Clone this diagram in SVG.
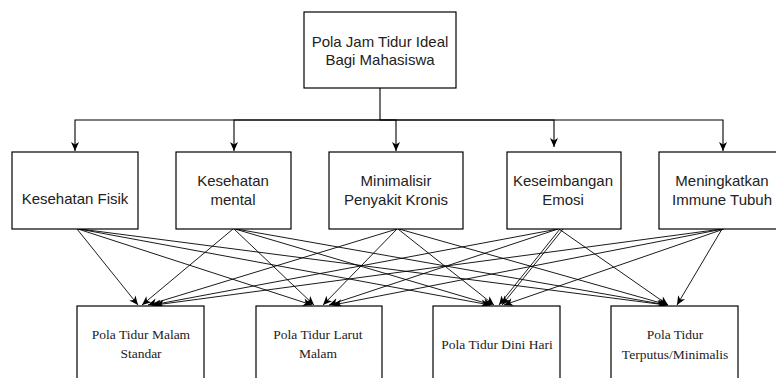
<svg xmlns="http://www.w3.org/2000/svg" width="776" height="378" viewBox="0 0 776 378">
<style>
.box{fill:#fff;stroke:#000;stroke-width:1.2}
.s{font-family:"Liberation Sans",Arial,sans-serif;font-size:15px;fill:#222;text-anchor:middle}
.t{font-family:"Liberation Serif","Times New Roman",serif;font-size:13.5px;fill:#222;text-anchor:middle}
.e{fill:none;stroke:#000;stroke-width:1.1}
.x{fill:none;stroke:#000;stroke-width:0.9}
</style>
<defs>
<marker id="a" markerWidth="11" markerHeight="9" refX="10" refY="4.5" orient="auto" markerUnits="userSpaceOnUse">
<path d="M1,0.5 L10,4.5 L1,8.5 L3.5,4.5 z" fill="#000"/>
</marker>
</defs>
<rect width="776" height="378" fill="#fff"/>
<g id="connectors">
<path class="e" d="M380,88 V120 H75 V151" marker-end="url(#a)"/>
<path class="e" d="M380,120 H234 V151" marker-end="url(#a)"/>
<path class="e" d="M380,120 H396 V151" marker-end="url(#a)"/>
<path class="e" d="M380,120 H554 V147" marker-end="url(#a)"/>
<path class="e" d="M380,120 H723 V151" marker-end="url(#a)"/>
<path class="x" d="M77,229 L138,305" marker-end="url(#a)"/>
<path class="x" d="M78,229 L312,305" marker-end="url(#a)"/>
<path class="x" d="M79,229 L490,305" marker-end="url(#a)"/>
<path class="x" d="M80,229 L666,305" marker-end="url(#a)"/>
<path class="x" d="M233,229 L142,305" marker-end="url(#a)"/>
<path class="x" d="M234,229 L314,305" marker-end="url(#a)"/>
<path class="x" d="M235,229 L492,305" marker-end="url(#a)"/>
<path class="x" d="M236,229 L667,305" marker-end="url(#a)"/>
<path class="x" d="M397,229 L148,305" marker-end="url(#a)"/>
<path class="x" d="M397,229 L323,305" marker-end="url(#a)"/>
<path class="x" d="M398,229 L494,305" marker-end="url(#a)"/>
<path class="x" d="M399,229 L668,305" marker-end="url(#a)"/>
<path class="x" d="M558,229 L152,305" marker-end="url(#a)"/>
<path class="x" d="M558,229 L329,305" marker-end="url(#a)"/>
<path class="x" d="M560,229 L499,305" marker-end="url(#a)"/>
<path class="x" d="M563,229 L502,305" marker-end="url(#a)"/>
<path class="x" d="M559,229 L668,305" marker-end="url(#a)"/>
<path class="x" d="M722,229 L155,305" marker-end="url(#a)"/>
<path class="x" d="M723,229 L333,305" marker-end="url(#a)"/>
<path class="x" d="M724,229 L504,305" marker-end="url(#a)"/>
<path class="x" d="M722,229 L677,305" marker-end="url(#a)"/>
</g>
<g id="root">
<rect class="box" x="304" y="12" width="152" height="76"/>
<text class="s" x="380" y="47">Pola Jam Tidur Ideal</text>
<text class="s" x="380" y="65">Bagi Mahasiswa</text>
</g>
<g id="fisik">
<rect class="box" x="12" y="152" width="126" height="77"/>
<text class="s" x="75" y="204">Kesehatan Fisik</text>
</g>
<g id="mental">
<rect class="box" x="176" y="152" width="115" height="77"/>
<text class="s" x="233" y="186">Kesehatan</text>
<text class="s" x="233" y="205">mental</text>
</g>
<g id="kronis">
<rect class="box" x="329" y="152" width="134" height="77"/>
<text class="s" x="396" y="186">Minimalisir</text>
<text class="s" x="396" y="205">Penyakit Kronis</text>
</g>
<g id="emosi">
<rect class="box" x="507" y="152" width="114" height="77"/>
<text class="s" x="563" y="186">Keseimbangan</text>
<text class="s" x="563" y="205">Emosi</text>
</g>
<g id="imun">
<rect class="box" x="659" y="152" width="126" height="77"/>
<text class="s" x="722" y="186">Meningkatkan</text>
<text class="s" x="722" y="205">Immune Tubuh</text>
</g>
<g id="malam">
<rect class="box" x="77" y="306" width="127" height="80"/>
<text class="t" x="141" y="339">Pola Tidur Malam</text>
<text class="t" x="141" y="358">Standar</text>
</g>
<g id="larut">
<rect class="box" x="256" y="306" width="126" height="80"/>
<text class="t" x="318" y="339">Pola Tidur Larut</text>
<text class="t" x="318" y="358">Malam</text>
</g>
<g id="dini">
<rect class="box" x="433" y="306" width="127" height="80"/>
<text class="t" x="497" y="349">Pola Tidur Dini Hari</text>
</g>
<g id="putus">
<rect class="box" x="611" y="306" width="127" height="80"/>
<text class="t" x="675" y="339">Pola Tidur</text>
<text class="t" x="675" y="359">Terputus/Minimalis</text>
</g>
</svg>
